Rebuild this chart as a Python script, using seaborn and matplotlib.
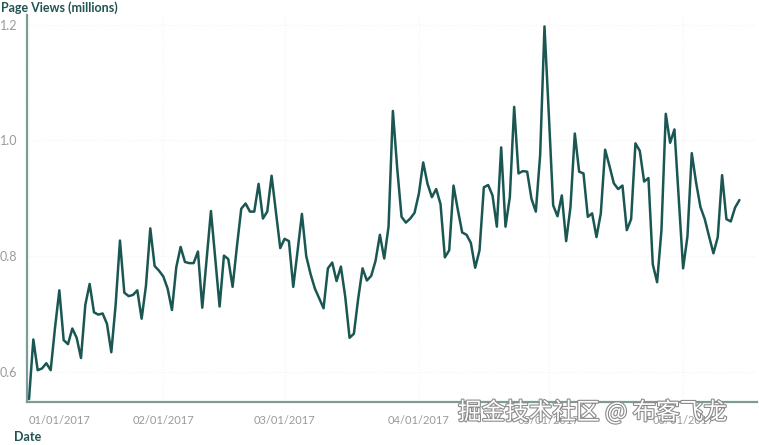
# Daily page views, Jan - Jun 2017
import pandas as pd
import numpy as np
import matplotlib.pyplot as plt
import matplotlib.dates as mdates
import matplotlib.patheffects as pe
import seaborn as sns

sns.set_style("white")
plt.rcParams["font.family"] = ["Lato", "DejaVu Sans"]

# ============================================================
# Data
# ============================================================
start_date = "2017-01-01"
views = [
    0.553, 0.656, 0.603, 0.606, 0.615, 0.603, 0.676, 0.741, 0.655, 0.648,
    0.675, 0.659, 0.624, 0.716, 0.752, 0.703, 0.699, 0.701, 0.683, 0.634,
    0.716, 0.827, 0.737, 0.731, 0.733, 0.741, 0.692, 0.749, 0.848, 0.783,
    0.775, 0.765, 0.744, 0.707, 0.781, 0.816, 0.790, 0.788, 0.788, 0.808,
    0.711, 0.795, 0.878, 0.795, 0.713, 0.801, 0.795, 0.747, 0.817, 0.882,
    0.891, 0.877, 0.877, 0.925, 0.865, 0.877, 0.939, 0.877, 0.814, 0.830,
    0.826, 0.747, 0.809, 0.873, 0.800, 0.769, 0.744, 0.727, 0.710, 0.779,
    0.789, 0.757, 0.782, 0.730, 0.659, 0.666, 0.727, 0.779, 0.758, 0.766,
    0.792, 0.837, 0.796, 0.851, 1.051, 0.952, 0.868, 0.858, 0.865, 0.875,
    0.908, 0.962, 0.925, 0.902, 0.916, 0.890, 0.798, 0.810, 0.922, 0.880,
    0.841, 0.837, 0.823, 0.780, 0.810, 0.919, 0.923, 0.905, 0.851, 0.988,
    0.851, 0.902, 1.058, 0.943, 0.947, 0.946, 0.899, 0.877, 0.975, 1.197,
    1.045, 0.888, 0.869, 0.905, 0.826, 0.885, 1.012, 0.946, 0.943, 0.868,
    0.874, 0.833, 0.874, 0.984, 0.956, 0.926, 0.916, 0.922, 0.845, 0.864,
    0.995, 0.982, 0.929, 0.935, 0.786, 0.755, 0.845, 1.046, 0.996, 1.019,
    0.900, 0.779, 0.834, 0.978, 0.927, 0.885, 0.864, 0.834, 0.805, 0.833,
    0.940, 0.864, 0.860, 0.884, 0.897,
]
y_ticks = [0.6, 0.8, 1.0, 1.2]
month_ticks = ["2017-01-01", "2017-02-01", "2017-03-01",
               "2017-04-01", "2017-05-01", "2017-06-01"]

df = pd.DataFrame({
    "Date": pd.date_range(start_date, periods=len(views), freq="D"),
    "Views": views,
})

# ============================================================
# Plot
# ============================================================
line_color = "#1b5752"
label_color = "#1f5450"
tick_color = "#9a9a9a"
spine_color = "#7d9c98"

fig = plt.figure(figsize=(7.59, 4.45), dpi=100)
ax = fig.add_axes([0.0356, 0.0966, 0.962, 0.870])

sns.lineplot(data=df, x="Date", y="Views", color=line_color,
             linewidth=1.8, ax=ax)

t0 = pd.Timestamp(start_date)
ax.set_xlim(t0 - pd.Timedelta(hours=11), t0 + pd.Timedelta(days=168.1))
ax.set_ylim(0.548, 1.217)

ax.set_yticks(y_ticks)
ax.set_yticklabels([f"{v:.1f}" for v in y_ticks])
ax.set_xticks(pd.to_datetime(month_ticks))
ax.xaxis.set_major_formatter(mdates.DateFormatter("%m/%d/%Y"))
ax.get_xticklabels()[0].set_ha("left")

ax.tick_params(axis="both", colors="#2a4a47", labelcolor=tick_color,
               labelsize=8, length=5, width=1, direction="out")
ax.tick_params(axis="y", pad=2, labelsize=9)
ax.tick_params(axis="x", pad=4)

ax.grid(True, color="#f2f5f4", linestyle=":", linewidth=0.8)

for side in ["top", "right"]:
    ax.spines[side].set_visible(False)
for side in ["left", "bottom"]:
    ax.spines[side].set_color(spine_color)
    ax.spines[side].set_linewidth(1.6)

ax.set_ylabel("Page Views (millions)", rotation=0, ha="left", va="center",
              fontsize=9, fontweight="bold", color=label_color)
ax.yaxis.set_label_coords(-0.035, 1.018)
ax.set_xlabel("Date", ha="left", va="center", fontsize=9,
              fontweight="bold", color=label_color)
ax.xaxis.set_label_coords(-0.018, -0.090)

# watermark from the source page
fig.text(458 / 759, 1 - 412 / 445, "掘金技术社区 @ 布客飞龙",
         family=["Noto Sans CJK SC", "DejaVu Sans"], fontsize=17,
         color="white", ha="left", va="center",
         path_effects=[pe.withStroke(linewidth=1.6, foreground="#8a8a8a")])

plt.savefig("out.png", dpi=100)
